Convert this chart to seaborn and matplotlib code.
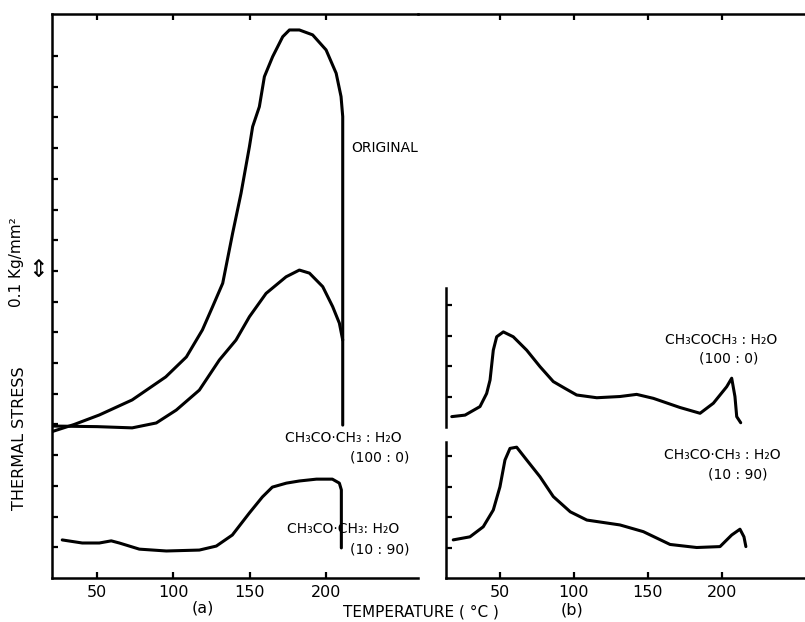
import numpy as np
import pandas as pd
import matplotlib
matplotlib.use("Agg")
import matplotlib.pyplot as plt
import seaborn as sns

# ---- data (stress in tick units, 1 tick = 0.1 kg/mm2) ----
# panel (a)
orig_temp = [20, 35, 51.5, 73, 95, 108.5, 119, 125.7, 132.3, 138.8, 144.3, 149.8, 151.9,
             156.3, 159.6, 165.0, 171.6, 176.0, 182.5, 191.2, 200.0, 206.6, 209.8, 210.9,
             210.9]
orig_stress = [4.76, 5.0, 5.31, 5.80, 6.55, 7.20, 8.08, 8.84, 9.60, 11.23, 12.53, 14.05, 14.70,
               15.35, 16.33, 16.98, 17.63, 17.85, 17.85, 17.69, 17.20, 16.44, 15.68, 15.03,
               4.98]

a100_temp = [20, 50, 73, 88.8, 101.9, 117, 130.1, 141.0, 149.8, 160.7, 173.8, 182.5, 189.1,
             197.8, 204.3, 208.7, 210.9]
a100_stress = [4.95, 4.93, 4.89, 5.05, 5.47, 6.12, 7.10, 7.75, 8.51, 9.27, 9.81, 10.03, 9.93,
               9.49, 8.84, 8.30, 7.75]

a10_temp = [27.2, 40.3, 51.5, 59.3, 64.6, 77.7, 95.4, 117, 128.1, 138.6, 149.8, 158.3,
            164.8, 174, 182.5, 193.7, 204.1, 208.7, 210, 210]
a10_stress = [1.24, 1.14, 1.14, 1.21, 1.14, 0.94, 0.88, 0.91, 1.04, 1.40, 2.12, 2.64,
              2.96, 3.09, 3.16, 3.22, 3.22, 3.09, 2.87, 0.98]

# panel (b)
b100_temp = [17.4, 26.4, 36.5, 41.0, 43.3, 45.5, 47.8, 52.3, 59.0, 68.1, 77.1, 86.1, 93.9,
             101.9, 115.5, 131.2, 142.5, 153.8, 171.8, 185.4, 194.4, 203.4, 206.8, 209,
             210.2, 212.9]
b100_stress = [0.34, 0.39, 0.67, 1.10, 1.54, 2.52, 2.96, 3.12, 2.96, 2.52, 1.98, 1.49, 1.27,
               1.05, 0.96, 1.0, 1.07, 0.94, 0.64, 0.45, 0.78, 1.32, 1.60, 1.0, 0.34, 0.14]

b10_temp = [18.4, 29.7, 38.7, 45.5, 50.0, 53.4, 56.8, 61.3, 68.1, 77.1, 86.1, 97.6, 108.8,
            131.2, 147.0, 165.1, 183.1, 198.9, 206.8, 212.4, 215.1, 216.4]
b10_stress = [1.25, 1.35, 1.68, 2.23, 2.99, 3.87, 4.25, 4.29, 3.87, 3.32, 2.67, 2.17, 1.90,
              1.74, 1.52, 1.10, 1.00, 1.03, 1.41, 1.60, 1.35, 1.03]

temp_ticks = [50, 100, 150, 200]
label_100 = "CH₃CO·CH₃ : H₂O"
label_10 = "CH₃CO·CH₃: H₂O"

sns.set_style("ticks")
plt.rcParams["font.family"] = ["DejaVu Sans"]
plt.rcParams["axes.linewidth"] = 1.8
plt.rcParams["axes.edgecolor"] = "black"
plt.rcParams["xtick.color"] = "black"
plt.rcParams["ytick.color"] = "black"
plt.rcParams["text.color"] = "black"

LW = 2.2
FS = 10


def curve(ax, t, s):
    df = pd.DataFrame({"temp": t, "stress": s})
    sns.lineplot(data=df, x="temp", y="stress", ax=ax, sort=False, estimator=None,
                 color="black", linewidth=LW, solid_joinstyle="round",
                 solid_capstyle="round")
    ax.set_xlabel("")
    ax.set_ylabel("")


fig = plt.figure(figsize=(8.05, 6.22), dpi=100)

# ---------------- panel (a) ----------------
ax_a = fig.add_axes([52 / 805, 44 / 622, 366 / 805, 564 / 622])
curve(ax_a, orig_temp, orig_stress)
curve(ax_a, a100_temp, a100_stress)
curve(ax_a, a10_temp, a10_stress)
ax_a.set_xlim(20.5, 260.2)
ax_a.set_ylim(0, 18.37)
ax_a.spines["right"].set_visible(False)
ax_a.set_xticks(temp_ticks)
ax_a.set_yticks(np.arange(1, 18))
ax_a.set_yticklabels([])
ax_a.tick_params(axis="both", direction="in", length=4, width=1.6,
                 top=True, labelsize=11.5, pad=5)

ax_a.text(216.6, 14.0, "ORIGINAL", fontsize=FS, ha="left", va="center")
ax_a.text(211.3, 4.56, label_100, fontsize=FS, ha="center", va="center")
ax_a.text(235, 3.91, "(100 : 0)", fontsize=FS, ha="center", va="center")
ax_a.text(211.3, 1.6, label_10, fontsize=FS, ha="center", va="center")
ax_a.text(235, 0.94, "(10 : 90)", fontsize=FS, ha="center", va="center")

# ---------------- panel (b) frame ----------------
ax_f = fig.add_axes([418 / 805, 44 / 622, 387 / 805, 564 / 622])
ax_f.patch.set_alpha(0)
ax_f.set_xlim(-5.4, 256.4)
ax_f.set_ylim(0, 1)
ax_f.spines["left"].set_visible(False)
ax_f.spines["right"].set_visible(False)
ax_f.spines["bottom"].set_bounds(13.5, 256.4)
ax_f.set_xticks(temp_ticks)
ax_f.set_yticks([])
ax_f.tick_params(axis="x", direction="in", length=4, width=1.6,
                 top=True, labelsize=11.5, pad=5)

# ---------------- panel (b) curves ----------------
ax_b1 = fig.add_axes([446 / 805, 195 / 622, 359 / 805, 139 / 622])
ax_b2 = fig.add_axes([446 / 805, 44 / 622, 359 / 805, 136 / 622])
curve(ax_b1, b100_temp, b100_stress)
curve(ax_b2, b10_temp, b10_stress)
for ax, top in ((ax_b1, 4.56), (ax_b2, 4.46)):
    ax.patch.set_alpha(0)
    ax.set_xlim(13.5, 256.4)
    ax.set_ylim(0, top)
    for side in ("top", "right", "bottom"):
        ax.spines[side].set_visible(False)
    ax.set_xticks([])
    ax.set_yticks([1, 2, 3, 4])
    ax.set_yticklabels([])
    ax.tick_params(axis="y", direction="in", length=4, width=1.6)

ax_b1.text(199.6, 2.85, "CH₃COCH₃ : H₂O", fontsize=FS, ha="center", va="center")
ax_b1.text(205, 2.26, "(100 : 0)", fontsize=FS, ha="center", va="center")
ax_b2.text(200.2, 4.03, label_100, fontsize=FS, ha="center", va="center")
ax_b2.text(211, 3.38, "(10 : 90)", fontsize=FS, ha="center", va="center")

# ---------------- figure-level labels ----------------
fig.text(203 / 805, 1 - 608 / 622, "(a)", fontsize=11.5, ha="center", va="center")
fig.text(421 / 805, 1 - 612 / 622, "TEMPERATURE ( °C )", fontsize=11, ha="center", va="center")
fig.text(572 / 805, 1 - 610 / 622, "(b)", fontsize=11.5, ha="center", va="center")
fig.text(20 / 805, 1 - 438 / 622, "THERMAL STRESS", fontsize=11.5, rotation=90,
         ha="center", va="center")
fig.text(17 / 805, 1 - 262 / 622, "0.1 Kg/mm²", fontsize=11, rotation=90,
         ha="center", va="center")
fig.text(38 / 805, 1 - 270 / 622, "⇕", fontsize=17, ha="center", va="center")

fig.savefig("out.png", dpi=100)
